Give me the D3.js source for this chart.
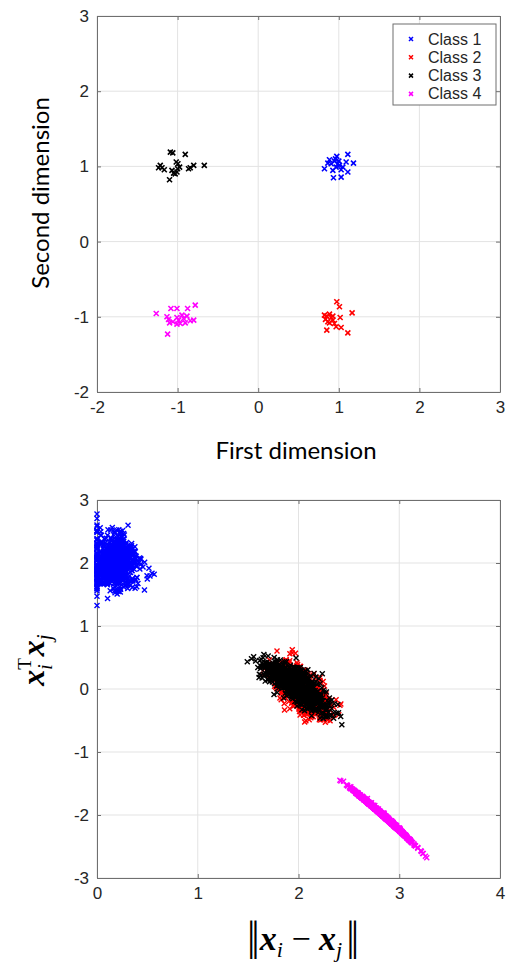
<!DOCTYPE html>
<html>
<head>
<meta charset="utf-8">
<script src="https://cdn.jsdelivr.net/npm/d3@7/dist/d3.min.js"></script>
<style>
  body { margin: 0; background: #fff; }
  svg { display: block; }
</style>
</head>
<body>
<svg id="chart" width="526" height="966"></svg>
<script>
// points, one array per class
var class1 = [[1.112,1.16],[0.975,1.133],[0.884,1.089],[0.946,1.071],[1.091,1.058],[1.182,1.044],
  [0.822,0.969],[0.926,0.947],[1.029,0.956],[1.112,0.925],[0.934,0.849],[1.029,0.858],[0.988,1.035],
  [1.008,1.013],[0.967,0.991],[1.05,0.991],[0.905,1.035],[0.864,1.044],[0.959,1.10],[1.0,1.071]];
var class2 = [[0.975,-0.80],[1.008,-0.867],[1.165,-0.947],[0.822,-0.978],[0.851,-0.991],[0.884,-0.965],
  [0.905,-1.009],[0.926,-1.044],[0.864,-1.066],[1.017,-1.009],[0.967,-1.133],[1.029,-1.142],
  [0.851,-1.177],[1.112,-1.213],[0.884,-1.08],[0.946,-1.089],[0.835,-1.035],[0.926,-0.991]];
var class3 = [[-1.09,1.19],[-1.06,1.18],[-0.905,1.16],[-1.017,1.058],[-0.996,1.035],[-1.215,1.013],
  [-1.194,0.982],[-1.165,0.956],[-1.236,0.982],[-1.07,0.947],[-1.10,0.823],[-1.008,0.925],[-1.0,0.969],
  [-0.975,0.991],[-0.864,0.969],[-0.843,0.982],[-0.80,1.013],[-0.669,1.013],[-1.03,0.90],[-1.05,0.91]];
var class4 = [[-1.265,-0.956],[-1.083,-0.889],[-1.008,-0.889],[-0.876,-0.889],[-0.781,-0.845],[-1.132,-1.0],
  [-1.112,-1.035],[-1.099,-1.08],[-1.008,-1.009],[-0.988,-1.044],[-0.946,-0.978],[-0.926,-1.022],
  [-0.884,-0.991],[-0.843,-1.053],[-0.80,-1.044],[-1.008,-1.098],[-0.967,-1.089],[-0.905,-1.08],
  [-1.124,-1.23],[-1.058,-1.066]];

var classNames = ["Class 1", "Class 2", "Class 3", "Class 4"];
var classColors = ["#0000ff", "#ff0000", "#000000", "#ff00ff"];

var topXTicks = [-2, -1, 0, 1, 2, 3];
var topYTicks = [-2, -1, 0, 1, 2, 3];
var botXTicks = [0, 1, 2, 3, 4];
var botYTicks = [-3, -2, -1, 0, 1, 2, 3];

var classes = [class1, class2, class3, class4];

// lower panel: every pair of points -> (distance, inner product)
// same class = blue, neighbours = red / black, opposite corners = magenta
function pairColor(a, b) {
  if (a == b) return "#0000ff";
  if ((a == 0 && b == 3) || (a == 1 && b == 2)) return "#ff00ff";
  if ((a == 0 && b == 1) || (a == 2 && b == 3)) return "#ff0000";
  return "#000000";
}
var pairs = [];
for (var a = 0; a < 4; a++) {
  for (var b = a; b < 4; b++) {
    classes[a].forEach(function(p, i) {
      classes[b].forEach(function(q, j) {
        if (a == b && j < i) return;
        var dx = p[0] - q[0], dy = p[1] - q[1];
        pairs.push({d: Math.sqrt(dx*dx + dy*dy), ip: p[0]*q[0] + p[1]*q[1], color: pairColor(a, b)});
      });
    });
  }
}
var drawOrder = ["#0000ff", "#ff0000", "#000000", "#ff00ff"];
pairs.sort(function(u, v) { return drawOrder.indexOf(u.color) - drawOrder.indexOf(v.color); });

var svg = d3.select("#chart");
var axisColor = "#6f6f6f", gridColor = "#e3e3e3", tickFont = "'Liberation Sans', Arial, sans-serif";
var cross = "M-2.5,-2.5L2.5,2.5M-2.5,2.5L2.5,-2.5";

function panel(x, y, xt, yt) {
  var g = svg.append("g");
  var x0 = x.range()[0], x1 = x.range()[1], y0 = y.range()[0], y1 = y.range()[1];
  g.selectAll(".gx").data(xt).enter().append("line")
    .attr("x1", x).attr("x2", x).attr("y1", y0).attr("y2", y1)
    .attr("stroke", gridColor).attr("stroke-width", 1);
  g.selectAll(".gy").data(yt).enter().append("line")
    .attr("x1", x0).attr("x2", x1).attr("y1", y).attr("y2", y)
    .attr("stroke", gridColor).attr("stroke-width", 1);
  var fmt = function(d) { return String(d); };
  var bottom = d3.axisBottom(x).tickValues(xt).tickSizeInner(-4).tickSizeOuter(0).tickPadding(9).tickFormat(fmt);
  var left = d3.axisLeft(y).tickValues(yt).tickSizeInner(-4).tickSizeOuter(0).tickPadding(8).tickFormat(fmt);
  var top = d3.axisTop(x).tickValues(xt).tickSizeInner(-4).tickSizeOuter(0).tickFormat("");
  var right = d3.axisRight(y).tickValues(yt).tickSizeInner(-4).tickSizeOuter(0).tickFormat("");
  [[bottom, 0, y0], [left, x0, 0], [top, 0, y1], [right, x1, 0]].forEach(function(s) {
    var ax = g.append("g").attr("transform", "translate(" + s[1] + "," + s[2] + ")").call(s[0]);
    ax.selectAll("path, line").attr("stroke", axisColor);
    ax.selectAll("text").attr("fill", "#262626").style("font-family", tickFont).style("font-size", "17px");
  });
  return g;
}

// ---------- upper panel ----------
var x1 = d3.scaleLinear().domain([-2, 3]).range([97, 500]);
var y1 = d3.scaleLinear().domain([-2, 3]).range([392, 16]);
panel(x1, y1, topXTicks, topYTicks);

classes.forEach(function(pts, k) {
  svg.append("g").selectAll("path").data(pts).enter().append("path")
    .attr("d", cross)
    .attr("transform", function(d) { return "translate(" + x1(d[0]) + "," + y1(d[1]) + ")"; })
    .attr("stroke", classColors[k]).attr("stroke-width", 1.6).attr("fill", "none");
});

// legend
var leg = svg.append("g").attr("transform", "translate(393,24)");
leg.append("rect").attr("width", 103).attr("height", 81)
  .attr("fill", "#fff").attr("stroke", axisColor).attr("stroke-width", 1);
classNames.forEach(function(name, k) {
  var row = leg.append("g").attr("transform", "translate(0," + (15 + k * 18.3) + ")");
  row.append("path").attr("d", "M-2,-2L2,2M-2,2L2,-2").attr("transform", "translate(18,0)")
    .attr("stroke", classColors[k]).attr("stroke-width", 1.5);
  row.append("text").attr("x", 35).attr("y", 5.5).text(name)
    .attr("fill", "#262626").style("font-family", tickFont).style("font-size", "16px");
});

svg.append("text").attr("x", 296).attr("y", 459).attr("text-anchor", "middle")
  .style("font-family", "Lato, 'Open Sans', sans-serif").style("font-size", "24px")
  .text("First dimension");
svg.append("text").attr("transform", "translate(49,193) rotate(-90)").attr("text-anchor", "middle")
  .style("font-family", "Lato, 'Open Sans', sans-serif").style("font-size", "24px")
  .text("Second dimension");

// ---------- lower panel ----------
var x2 = d3.scaleLinear().domain([0, 4]).range([97, 500]);
var y2 = d3.scaleLinear().domain([-3, 3]).range([878, 500]);
panel(x2, y2, botXTicks, botYTicks);

svg.append("g").selectAll("path").data(pairs).enter().append("path")
  .attr("d", cross)
  .attr("transform", function(d) { return "translate(" + x2(d.d) + "," + y2(d.ip) + ")"; })
  .attr("stroke", function(d) { return d.color; }).attr("stroke-width", 1.4).attr("fill", "none");

// math labels
var serif = "'Liberation Serif', 'DejaVu Serif', serif";
var xl = svg.append("text").attr("x", 301).attr("y", 950).attr("text-anchor", "middle")
  .style("font-family", serif).style("font-size", "34px");
xl.append("tspan").style("font-size", "42px").attr("letter-spacing", "-4").text("||");
xl.append("tspan").attr("dx", 4).style("font-weight", "bold").style("font-style", "italic").text("x");
xl.append("tspan").attr("dy", 7).style("font-style", "italic").style("font-size", "22px").text("i");
xl.append("tspan").attr("dy", -7).text(" \u2212 ");
xl.append("tspan").style("font-weight", "bold").style("font-style", "italic").text("x");
xl.append("tspan").attr("dy", 7).style("font-style", "italic").style("font-size", "22px").text("j");
xl.append("tspan").attr("dy", -7).attr("dx", 4).style("font-size", "42px").attr("letter-spacing", "-4").text("||");

var yl = svg.append("text").attr("transform", "translate(44,660) rotate(-90)").attr("text-anchor", "middle")
  .style("font-family", serif).style("font-size", "32px");
yl.append("tspan").style("font-weight", "bold").style("font-style", "italic").text("x");
yl.append("tspan").attr("dy", -13).style("font-size", "19px").text("T");
yl.append("tspan").attr("dx", -12).attr("dy", 21).style("font-style", "italic").style("font-size", "21px").text("i");
yl.append("tspan").attr("dx", 8).attr("dy", -8).style("font-weight", "bold").style("font-style", "italic").text("x");
yl.append("tspan").attr("dy", 7).style("font-style", "italic").style("font-size", "21px").text("j");
</script>
</body>
</html>
